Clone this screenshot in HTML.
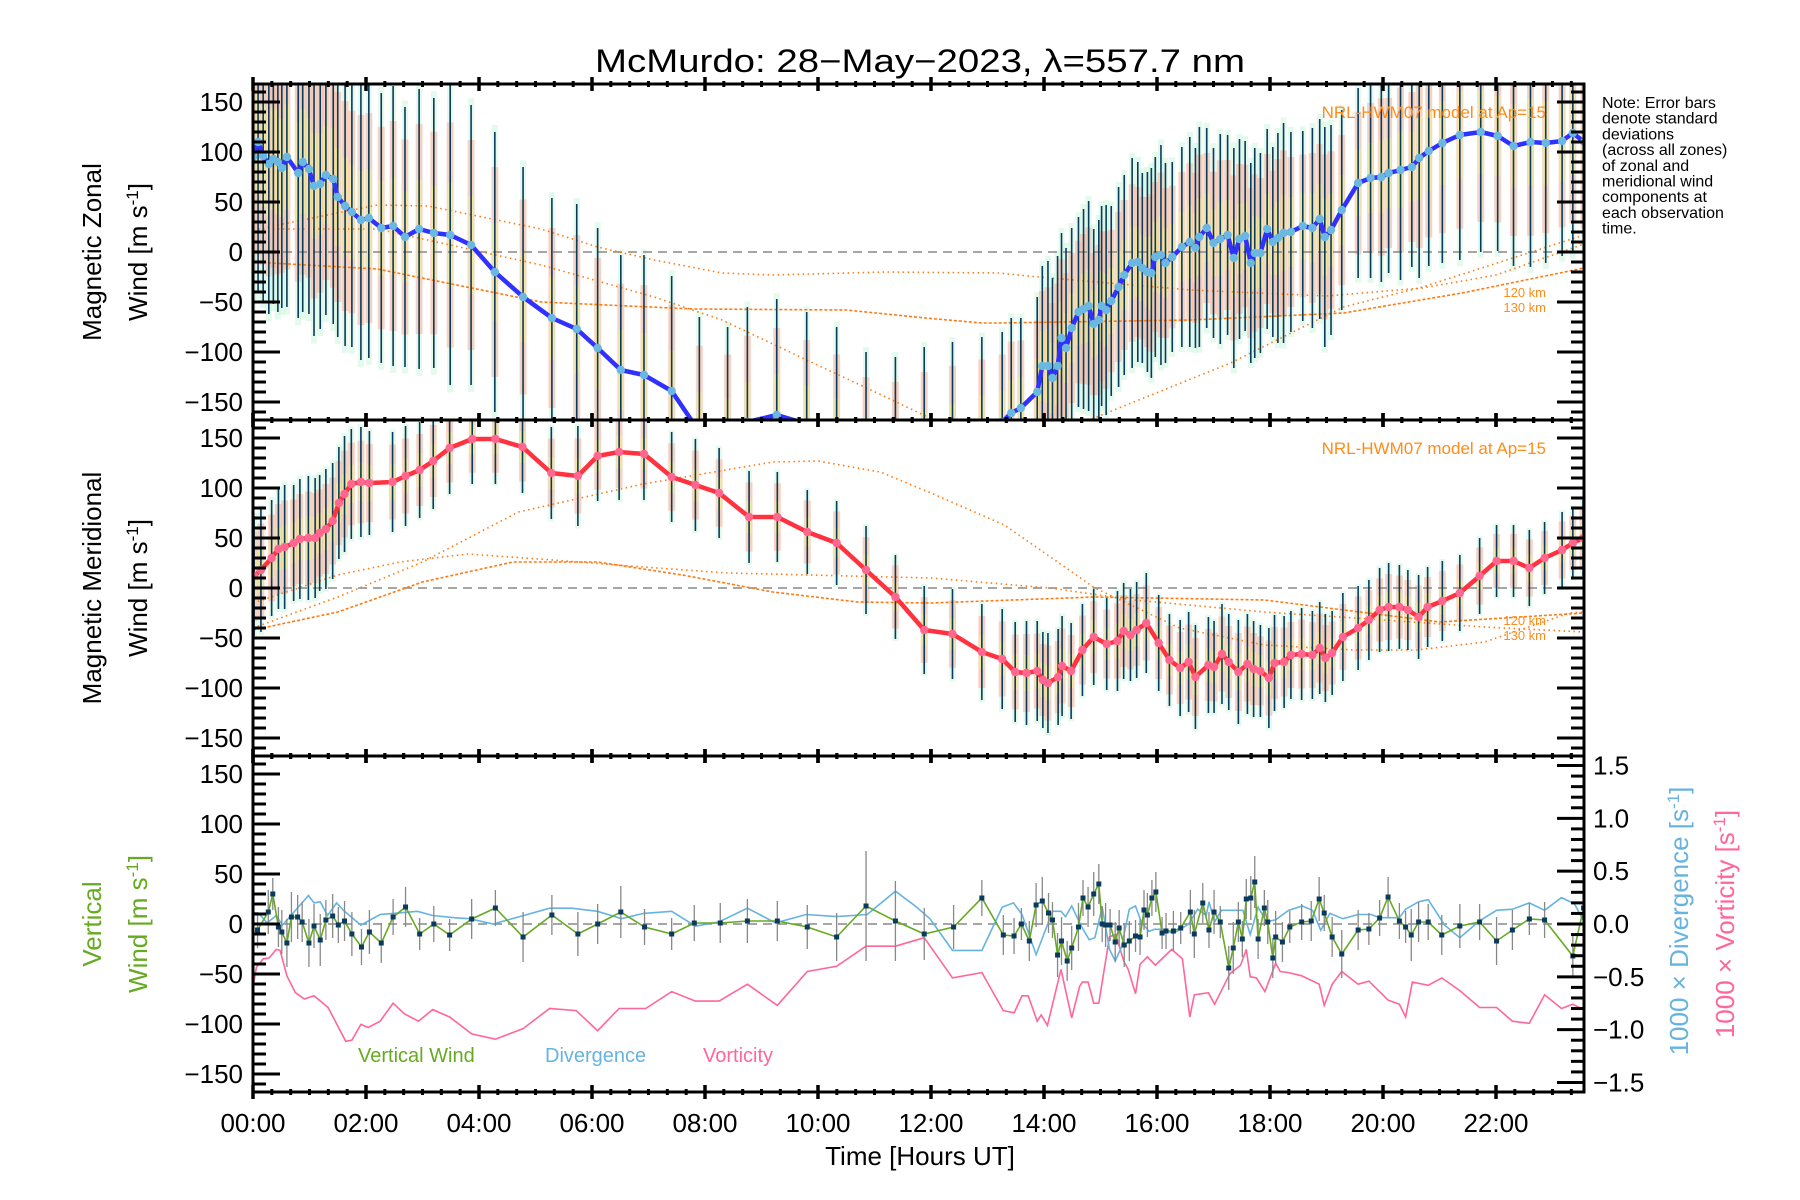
<!DOCTYPE html>
<html><head><meta charset="utf-8"><title>McMurdo winds</title>
<style>
html,body{margin:0;padding:0;background:#fff;}
svg{display:block;font-family:"Liberation Sans",sans-serif;}
</style></head>
<body>
<svg id="chart" width="1800" height="1200" viewBox="0 0 1800 1200" xmlns="http://www.w3.org/2000/svg">
<rect x="0" y="0" width="1800" height="1200" fill="#fff"/>
<text x="920" y="72" font-size="32" text-anchor="middle" textLength="650" lengthAdjust="spacingAndGlyphs">McMurdo: 28−May−2023, λ=557.7 nm</text>
</svg>
<script>
// ---------------- DATA ----------------
const zonalT = [0,.09,.18,.28,.36,.44,.51,.6,.8,.88,.99,1.08,1.19,1.29,1.42,1.5,1.63,1.75,1.91,2.05,2.27,2.48,2.69,2.94,3.2,3.49,3.86,4.28,4.78,5.29,5.73,6.1,6.51,6.92,7.41,7.9,8.4,8.75,9.27,9.8,10.33,10.85,11.37,11.88,12.38,12.9,13.26,
13.42,13.59,13.88,13.97,14.07,14.15,14.24,14.31,14.39,14.49,14.61,14.7,14.79,14.88,14.97,15.02,15.1,15.19,15.32,15.42,15.56,15.66,15.74,15.83,15.9,15.97,16.07,16.15,16.27,16.44,16.58,16.68,16.75,16.88,17.0,17.12,17.25,17.36,17.46,17.56,17.66,17.73,17.83,17.95,18.05,18.14,18.24,18.37,18.58,18.75,18.88,18.97,19.08,19.27,19.56,19.78,19.97,20.1,20.31,20.51,20.64,20.81,21.05,21.36,21.73,22.03,22.31,22.61,22.88,23.17,23.36,23.56];
const zonalV = [95,110,96,88,93,90,84,95,79,90,83,66,68,77,73,55,46,40,32,34,24,26,15,23,19,17,7,-20,-45,-66,-77,-96,-118,-123,-139,-180,-185,-170,-163,-172,-185,-200,-205,-195,-185,-175,-170,
-161,-156,-140,-114,-114,-126,-114,-86,-96,-76,-60,-57,-54,-72,-68,-54,-58,-49,-35,-23,-11,-10,-16,-20,-21,-5,-3,-11,-5,5,10,4,15,24,9,13,17,-6,13,16,-11,-1,-1,23,10,14,19,20,26,24,33,15,22,42,69,74,75,79,82,85,94,101,109,117,120,116,106,110,109,111,119,110];
const zonalSd = [150,150,145,150,145,150,140,150,145,150,145,150,145,140,145,140,140,135,140,140,135,140,130,140,135,150,140,140,130,120,125,120,115,120,115,115,110,115,116,112,110,100,100,100,95,90,90,
95,90,95,100,105,100,110,105,100,100,95,100,105,95,100,100,105,95,100,100,105,100,95,100,105,100,110,100,95,100,105,100,110,100,95,105,100,110,100,95,100,105,100,100,95,105,110,100,95,100,100,110,105,100,95,100,105,100,110,100,120,115,120,125,120,115,120,125,120,115,120,115];

const meridT = [0.02,0.14,0.33,0.45,0.56,0.72,0.83,0.98,1.1,1.18,1.29,1.41,1.52,1.62,1.74,1.91,2.06,2.47,2.7,2.95,3.19,3.48,3.88,4.29,4.77,5.28,5.75,6.1,6.48,6.92,7.41,7.83,8.25,8.78,9.28,9.81,10.33,10.85,11.37,11.88,
12.38,12.9,13.26,13.49,13.69,13.88,13.98,14.07,14.25,14.32,14.48,14.68,14.88,15.11,15.3,15.41,15.53,15.64,15.81,16.03,16.22,16.41,16.56,16.68,16.91,17.01,17.15,17.27,17.44,17.6,17.71,17.83,17.98,18.08,18.25,18.37,18.56,18.75,18.88,18.98,19.1,19.29,19.56,19.75,19.94,20.1,20.29,20.44,20.63,20.79,21.05,21.36,21.71,22.01,22.31,22.59,22.86,23.17,23.36,23.54];
const meridV = [12,18,30,39,41,45,49,50,50,55,59,67,85,94,104,106,105,106,112,118,127,140,149,149,141,115,112,132,136,134,111,103,95,71,71,56,45,18,-9,-42,
-46,-64,-71,-84,-85,-83,-92,-95,-89,-78,-83,-62,-49,-56,-53,-43,-47,-42,-35,-55,-72,-80,-74,-89,-77,-79,-66,-74,-84,-76,-81,-83,-90,-75,-74,-67,-66,-67,-60,-70,-65,-49,-40,-32,-22,-19,-19,-22,-29,-19,-13,-5,12,27,27,20,30,38,45,50];
const meridSd = [60,62,58,60,62,58,60,62,60,58,60,58,56,58,55,55,52,50,50,48,48,46,45,45,46,46,50,45,48,46,45,46,45,46,45,42,42,44,42,44,
45,48,50,50,52,50,48,50,48,50,48,46,48,46,50,48,46,48,50,48,46,48,50,52,48,46,50,48,52,50,48,46,50,48,46,44,46,44,46,44,42,44,42,40,42,44,42,40,42,40,40,38,38,36,36,38,36,38,36,38];

const vertT = [0.08,0.27,0.35,0.45,0.51,0.6,0.68,0.79,0.87,0.99,1.08,1.19,1.29,1.41,1.51,1.62,1.75,1.92,2.06,2.27,2.48,2.7,2.95,3.2,3.48,3.87,4.29,4.78,5.29,5.75,6.1,6.51,6.93,7.41,7.81,8.27,8.75,9.28,9.81,10.33,10.85,11.37,11.88,
12.40,12.90,13.28,13.47,13.6,13.74,13.86,13.97,14.08,14.15,14.24,14.31,14.41,14.49,14.61,14.69,14.78,14.88,14.97,15.03,15.09,15.17,15.26,15.33,15.42,15.51,15.62,15.70,15.77,15.83,15.91,15.98,16.09,16.16,16.29,16.42,16.59,16.66,16.81,16.92,17.01,17.12,17.27,17.35,17.44,17.51,17.58,17.66,17.73,17.79,17.90,17.96,18.05,18.10,18.22,18.35,18.56,18.73,18.87,18.96,19.10,19.27,19.56,19.75,19.94,20.09,20.29,20.40,20.50,20.63,20.80,21.04,21.36,21.71,22.01,22.29,22.59,22.86,23.36,23.55];
const vertV = [-6,12,30,-3,-8,-19,7,7,2,-19,-2,-16,4,8,-1,3,-10,-23,-8,-19,7,17,-10,0,-11,5,16,-13,9,-10,0,12,-3,-10,1,1,3,3,-3,-13,18,3,-10,
-3,26,-11,-12,0,-17,19,23,11,4,-31,-17,-37,-24,-3,26,17,30,40,0,-1,-1,-18,-4,-21,-17,-12,-13,14,9,26,32,-9,-7,-7,-4,12,-10,21,-6,12,2,-44,-24,2,-15,25,26,42,-15,16,2,-34,-13,-18,-3,2,3,25,11,-13,-30,-6,-5,6,27,3,-3,-11,2,2,-11,-2,2,-17,-6,5,4,-32,16];
const vertErr = [18,22,16,20,22,24,25,22,20,24,22,26,20,22,18,20,22,18,22,20,18,20,16,18,16,20,18,25,20,22,20,26,18,16,18,20,22,20,22,24,55,40,26,
22,18,20,18,16,20,22,24,20,18,22,24,20,22,24,18,20,22,20,18,22,16,20,18,22,20,16,18,20,22,18,20,16,18,20,16,22,24,20,18,22,16,22,26,20,18,20,22,26,20,18,22,20,26,20,16,18,20,22,18,20,24,20,16,18,20,18,16,26,20,18,20,22,18,24,20,16,18,22,20];

const divT = [0,0.10,0.25,0.41,0.52,0.72,0.98,1.08,1.19,1.32,1.48,1.6,1.91,2.25,2.48,2.91,3.18,3.56,3.83,4.25,4.72,5.25,5.64,6.1,6.52,6.91,7.41,7.83,8.25,8.75,9.25,9.79,10.33,10.87,11.37,11.72,11.98,
12.38,12.90,13.26,13.46,13.61,13.86,14.15,14.3,14.38,14.49,14.66,14.80,14.90,15.03,15.16,15.26,15.37,15.51,15.62,15.72,15.86,15.95,16.1,16.29,16.56,16.72,16.87,16.92,17.02,17.14,17.27,17.52,17.65,17.79,17.94,18.1,18.33,18.57,18.75,18.9,19.06,19.29,19.56,19.79,19.94,20.29,20.4,20.63,20.8,21.09,21.36,21.71,22.01,22.29,22.59,22.86,23.16,23.39,23.55];
const divV = [0.11,0.10,0.01,0.08,-0.01,0.11,0.27,0.20,0.21,0.08,0.20,0.13,-0.01,0.09,0.10,0.12,0.08,0.06,0.05,0.0,0.07,0.15,0.15,0.12,0.05,0.10,0.12,-0.02,0.02,0.15,0.01,0.09,0.07,0.09,0.31,0.17,0.05,
-0.25,-0.25,0.16,0.20,0.09,-0.29,0.12,0.12,0.07,0.17,-0.02,-0.15,-0.13,0.16,-0.24,-0.35,-0.22,0.14,0.17,0.02,-0.07,-0.05,-0.05,-0.09,0.0,0.14,0.08,0.21,0.02,0.13,0.13,0.13,-0.10,0.16,0.02,0.04,0.13,0.17,0.13,-0.06,0.10,0.05,0.09,0.09,0.06,0.06,0.14,0.21,0.23,-0.01,-0.13,0.03,0.13,0.14,0.20,0.13,0.25,0.19,0.03];

const vortT = [0,0.06,0.18,0.29,0.41,0.48,0.6,0.75,0.91,1.08,1.33,1.64,1.75,1.91,2.04,2.25,2.48,2.68,2.93,3.18,3.48,3.87,4.29,4.78,5.25,5.72,6.1,6.48,6.95,7.41,7.83,8.25,8.75,9.28,9.81,10.33,10.85,11.37,11.88,
12.38,12.9,13.28,13.47,13.61,13.72,13.88,13.95,14.06,14.3,14.49,14.63,14.68,14.78,14.88,14.97,15.16,15.27,15.41,15.49,15.62,15.70,15.83,15.97,16.26,16.45,16.58,16.66,16.91,17.02,17.29,17.48,17.58,17.65,17.76,17.91,18.1,18.18,18.33,18.56,18.87,18.96,19.1,19.27,19.56,19.75,20.09,20.29,20.4,20.52,20.8,21.04,21.36,21.71,22.01,22.29,22.59,22.86,23.16,23.36,23.55];
const vortV = [-0.60,-0.41,-0.33,-0.32,-0.24,-0.25,-0.49,-0.65,-0.71,-0.68,-0.79,-1.11,-1.10,-0.95,-0.98,-0.92,-0.75,-0.85,-0.92,-0.81,-0.88,-1.04,-1.09,-0.99,-0.80,-0.82,-1.01,-0.80,-0.80,-0.64,-0.73,-0.73,-0.57,-0.77,-0.45,-0.40,-0.21,-0.21,-0.13,
-0.51,-0.46,-0.82,-0.84,-0.68,-0.68,-0.92,-0.86,-0.96,-0.43,-0.89,-0.59,-0.55,-0.55,-0.75,-0.75,-0.12,-0.10,-0.35,-0.43,-0.66,-0.38,-0.31,-0.39,-0.24,-0.33,-0.88,-0.67,-0.65,-0.76,-0.47,-0.39,-0.24,-0.50,-0.51,-0.64,-0.37,-0.45,-0.46,-0.49,-0.57,-0.77,-0.57,-0.45,-0.57,-0.54,-0.72,-0.76,-0.88,-0.55,-0.58,-0.51,-0.63,-0.79,-0.79,-0.92,-0.94,-0.67,-0.80,-0.76,-0.81];

// HWM07 model curves (hours, m/s)
const modelZT1 = [0,2.2,3.1,5.1,6.1,7.1,8.3,9.2,11.2,13.2,13.9,16.6,19.0,20.7,22.0,23.56];
const modelZV1 = [22,47,46,23,5,-8,-21,-23,-20,-21,-25,-38,-44,-36,-23,8];
const modelZT2 = [0,2.2,5.1,7.1,8.3,9.8,11.2,12.2,13.5,14.8,17.3,19.3,20.7,23.56];
const modelZV2 = [23,23,-13,-45,-68,-108,-145,-172,-190,-168,-111,-55,-35,17];
const modelZT3 = [0,2.2,5.1,7.8,10.5,11.9,12.9,13.2,16.6,19.3,21.4,23.56];
const modelZV3 = [-10,-17,-50,-57,-58,-66,-71,-71,-68,-61,-41,-16];
const modelMT1 = [0,1.5,3.0,4.7,6.9,9.2,10.0,11.1,12.0,13.3,14.9,16.4,17.9,19.5,20.6,21.8,23.3,23.56];
const modelMV1 = [-40,-9,26,76,104,126,127,116,95,63,0,-40,-57,-62,-62,-54,-25,-24];
const modelMT2 = [0,1.5,2.6,3.8,5.3,6.9,8.4,12.0,14.1,15.6,17.9,19.5,21.8,23.56];
const modelMV2 = [-15,13,26,34,28,21,15,10,0,-12,-24,-30,-39,-44];
const modelMT3 = [0,1.5,3.0,4.6,6.1,7.6,9.2,10.7,12.0,14.9,17.9,21.0,23.56];
const modelMV3 = [-42,-24,6,26,26,13,-4,-14,-15,-9,-12,-34,-25];

const yTicks = [-150,-100,-50,0,50,100,150];
const rTicks = [-1.5,-1.0,-0.5,0.0,0.5,1.0,1.5];
const xTickLabels = ["00:00","02:00","04:00","06:00","08:00","10:00","12:00","14:00","16:00","18:00","20:00","22:00"];
const xTickHours = [0,2,4,6,8,10,12,14,16,18,20,22];
const noteLines = ["Note: Error bars","denote standard","deviations","(across all zones)","of zonal and","meridional wind","components at","each observation","time."];

// ---------------- GEOMETRY ----------------
const svg = document.getElementById('chart');
const NS = 'http://www.w3.org/2000/svg';
const L = 253, R = 1584, HMAX = (R - L) / 56.5;
const tops = [84, 420, 756], PH = 336;
function X(h){ return L + h * (R - L) / HMAX; }
function Y(p, v){ return tops[p] + PH/2 - v * (PH/2) / 168; }
function YR(v){ return tops[2] + PH/2 - v * (PH/2) / 1.59; }
function mk(tag, attrs, parent){
  const e = document.createElementNS(NS, tag);
  for (const k in attrs) e.setAttribute(k, attrs[k]);
  (parent || svg).appendChild(e);
  return e;
}
const defs = mk('defs', {});
for (let p = 0; p < 3; p++){
  const cp = mk('clipPath', {id: 'clip' + p}, defs);
  mk('rect', {x: L, y: tops[p], width: R - L, height: PH}, cp);
}
function gPanel(p, name){
  const g = mk('g', {'clip-path': 'url(#clip' + p + ')'});
  
  
  return g;
}
function poly(ts, vs, yf, attrs, parent, name){
  const pts = ts.map((t, i) => X(t).toFixed(1) + ',' + yf(vs[i]).toFixed(1)).join(' ');
  const e = mk('polyline', Object.assign({points: pts, fill: 'none'}, attrs), parent);
  
  
  return e;
}

// ---------------- PANEL 1 & 2 (zonal / meridional) ----------------
function windPanel(p, T, V, SD, lineCol, mkCol, models, prefix){
  const g = gPanel(p, prefix + '-plot-area');
  T.forEach((t, i) => {
    const x = X(t);
    const b2 = mk('rect', {x: x - 3, y: Y(p, V[i] + SD[i] * 1.05), width: 6, height: SD[i] * 2.1 * (PH/2) / 168, fill: '#c8f5dc', opacity: 0.5}, g);
    
    
    const b1 = mk('rect', {x: x - 3.5, y: Y(p, V[i] + SD[i] * 0.75), width: 7, height: SD[i] * 1.5 * (PH/2) / 168, fill: '#ffb09a', opacity: 0.55}, g);
    
    
    const b3 = mk('rect', {x: x - 2.5, y: Y(p, V[i] + SD[i] * 0.35), width: 5, height: SD[i] * 0.7 * (PH/2) / 168, fill: '#f0f590', opacity: 0.6}, g);
    
    
  });
  const z = mk('line', {x1: L, x2: R, y1: Y(p, 0), y2: Y(p, 0), stroke: '#888', 'stroke-width': 1.5, 'stroke-dasharray': '9,6'}, g);
  
  
  models.forEach((m, k) => {
    poly(m[0], m[1], v => Y(p, v), {stroke: '#ff7a10', 'stroke-width': 1.6, 'stroke-dasharray': k === 2 ? '3,2' : '1.5,3.5'}, g, prefix + '-model-curve');
  });
  T.forEach((t, i) => {
    const e = mk('line', {x1: X(t), x2: X(t), y1: Y(p, V[i] + SD[i]), y2: Y(p, V[i] - SD[i]), stroke: '#0a3a5e', 'stroke-width': 1.6}, g);
    
    
  });
  poly(T, V, v => Y(p, v), {stroke: lineCol, 'stroke-width': 4.5, 'stroke-linejoin': 'round'}, g, prefix + '-wind-line');
  T.forEach((t, i) => {
    const c = mk('circle', {cx: X(t), cy: Y(p, V[i]), r: 4.2, fill: mkCol}, g);
    
    
  });
  const ml = mk('text', {x: 1546, y: tops[p] + 34, 'font-size': 17, fill: '#ff8c1a', 'text-anchor': 'end'}, g);
  ml.textContent = 'NRL-HWM07 model at Ap=15';
  
  
  ['120 km', '130 km'].forEach((s, k) => {
    const t = mk('text', {x: 1546, y: (p === 0 ? 297 : 625) + k * 15, 'font-size': 13, fill: '#ff8c1a', 'text-anchor': 'end'}, g);
    t.textContent = s;
    
    
  });
}
windPanel(0, zonalT, zonalV, zonalSd, '#3030ff', '#6ab8e2', [[modelZT1, modelZV1], [modelZT2, modelZV2], [modelZT3, modelZV3]], 'zonal');
windPanel(1, meridT, meridV, meridSd, '#ff3340', '#ff6690', [[modelMT1, modelMV1], [modelMT2, modelMV2], [modelMT3, modelMV3]], 'meridional');

// ---------------- PANEL 3 ----------------
const g3 = gPanel(2, 'vertical-plot-area');
const z3 = mk('line', {x1: L, x2: R, y1: Y(2, 0), y2: Y(2, 0), stroke: '#888', 'stroke-width': 1.5, 'stroke-dasharray': '9,6'}, g3);


poly(vortT, vortV, YR, {stroke: '#ff6699', 'stroke-width': 1.6}, g3, 'vorticity-line');
poly(divT, divV, YR, {stroke: '#66b3e0', 'stroke-width': 1.6}, g3, 'divergence-line');
vertT.forEach((t, i) => {
  const e = mk('line', {x1: X(t), x2: X(t), y1: Y(2, vertV[i] + vertErr[i]), y2: Y(2, vertV[i] - vertErr[i]), stroke: '#888', 'stroke-width': 1.3}, g3);
  
  
});
poly(vertT, vertV, v => Y(2, v), {stroke: '#66aa22', 'stroke-width': 1.6}, g3, 'vertical-wind-line');
vertT.forEach((t, i) => {
  const r = mk('rect', {x: X(t) - 2.5, y: Y(2, vertV[i]) - 2.5, width: 5, height: 5, fill: '#0a3a5e'}, g3);
  
  
});
[['Vertical Wind', 358, '#66aa22'], ['Divergence', 545, '#66b3e0'], ['Vorticity', 703, '#ff6699']].forEach(a => {
  const t = mk('text', {x: a[1], y: 1062, 'font-size': 20, fill: a[2]}, g3);
  t.textContent = a[0];
  
  
});

// ---------------- AXES ----------------
const axG = mk('g', {stroke: '#000', fill: 'none'});


for (let p = 0; p < 3; p++){
  const fr = mk('rect', {x: L, y: tops[p], width: R - L, height: PH, 'stroke-width': 3}, axG);
  
  
  for (let v = -160; v <= 160; v += 10){
    const major = v % 50 === 0;
    const len = major ? 27 : 13;
    const y = Y(p, v);
    const tl = mk('line', {x1: L, x2: L + len, y1: y, y2: y, 'stroke-width': 3}, axG);
    
    
    if (p < 2){
      const tr = mk('line', {x1: R, x2: R - len, y1: y, y2: y, 'stroke-width': 3}, axG);
      
      
    }
  }
  for (let m = 0; m <= HMAX * 60; m += 20){
    const x = X(m / 60);
    const major = m % 120 === 0;
    const d = major ? 7 : 3;
    [tops[p], tops[p] + PH].forEach(yy => {
      const xt = mk('line', {x1: x, x2: x, y1: yy - d, y2: yy + d, 'stroke-width': major ? 3.5 : 3}, axG);
      
      
    });
  }
  yTicks.forEach(v => {
    const t = mk('text', {x: 243, y: Y(p, v) + 9, 'font-size': 26, fill: '#000', stroke: 'none', 'text-anchor': 'end'});
    t.textContent = (v < 0 ? '−' : '') + Math.abs(v);
    
    
  });
}
for (let k = -15; k <= 15; k++){
  const v = k / 10;
  const major = k % 5 === 0;
  const len = major ? 27 : 13;
  const rl = mk('line', {x1: R, x2: R - len, y1: YR(v), y2: YR(v), 'stroke-width': 3}, axG);
  
  
}
rTicks.forEach(v => {
  const t = mk('text', {x: 1593, y: YR(v) + 9, 'font-size': 26, fill: '#000', stroke: 'none'});
  t.textContent = (v < 0 ? '−' : '') + Math.abs(v).toFixed(1);
  
  
});
xTickHours.forEach((h, i) => {
  const t = mk('text', {x: X(h), y: 1132, 'font-size': 26, 'text-anchor': 'middle'});
  t.textContent = xTickLabels[i];
  
  
});
const xt = mk('text', {x: 920, y: 1165, 'font-size': 26, 'text-anchor': 'middle'});
xt.textContent = 'Time [Hours UT]';



function vtitle(text, x, y, col, name, sup){
  const t = mk('text', {x: x, y: y, 'font-size': 26, fill: col, 'text-anchor': 'middle', transform: 'rotate(-90 ' + x + ' ' + y + ')'});
  t.textContent = text;
  if (sup){
    const s = mk('tspan', {'baseline-shift': 'super', 'font-size': 17}, t);
    s.textContent = '-1';
    const e = mk('tspan', {}, t);
    e.textContent = ']';
  }
  
  
}
vtitle('Magnetic Zonal', 101, 252, '#000', 'y-axis-title-zonal');
vtitle('Wind [m s', 147, 252, '#000', 'y-axis-units-zonal', true);
vtitle('Magnetic Meridional', 101, 588, '#000', 'y-axis-title-meridional');
vtitle('Wind [m s', 147, 588, '#000', 'y-axis-units-meridional', true);
vtitle('Vertical', 101, 924, '#66aa22', 'y-axis-title-vertical');
vtitle('Wind [m s', 147, 924, '#66aa22', 'y-axis-units-vertical', true);
vtitle('1000 × Divergence [s', 1688, 921, '#66b3e0', 'right-axis-title-divergence', true);
vtitle('1000 × Vorticity [s', 1734, 924, '#ff6699', 'right-axis-title-vorticity', true);

noteLines.forEach((s, i) => {
  const t = mk('text', {x: 1602, y: 108 + i * 15.7, 'font-size': 16, fill: '#000'});
  t.textContent = s;
  
  
});
</script>
</body></html>
